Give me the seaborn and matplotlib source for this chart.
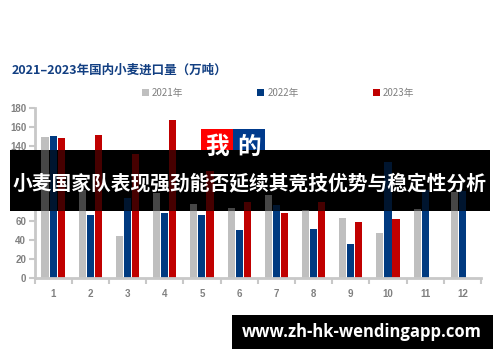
import matplotlib
matplotlib.use('Agg')
import matplotlib.pyplot as plt
import seaborn as sns
import pandas as pd
import numpy as np
from matplotlib.patches import Rectangle

# ---- data ----
months = ['1', '2', '3', '4', '5', '6', '7', '8', '9', '10', '11', '12']
years = ['2021年', '2022年', '2023年']
v2021 = [149, 93, 44, 90, 78, 74, 88, 72, 64, 48, 73, 91]
v2022 = [150, 67, 85, 69, 67, 51, 77, 52, 36, 123, 93, 92]
v2023 = [148, 151, 131, 167, 113, 80, 69, 81, 59, 63, 0, 0]
yticks = [0, 20, 40, 60, 80, 100, 120, 140, 160, 180]
title = '2021–2023年国内小麦进口量（万吨）'
banner = '小麦国家队表现强劲能否延续其竞技优势与稳定性分析'
url = 'www.zh-hk-wendingapp.com'
logo = ['我', '的']
colors = ['#bfbfbf', '#003a80', '#c00000']

df = pd.DataFrame({
    '月份': months * 3,
    '年份': [y for y in years for _ in months],
    '进口量': v2021 + v2022 + v2023,
})

sns.set_style('white')
plt.rcParams['font.family'] = ['Noto Sans CJK SC', 'DejaVu Sans']

W, H = 500, 362
fig = plt.figure(figsize=(W / 100, H / 100), dpi=100)


def fx(px):
    return px / W


def fy(py):
    return 1 - py / H


ax = fig.add_axes([fx(34.5), fy(278), fx(481) - fx(34.5), fy(108) - fy(278)])

sns.barplot(data=df, x='月份', y='进口量', hue='年份', palette=colors,
            width=0.65, gap=0.12, saturation=1, linewidth=0,
            ax=ax, zorder=2)

# banner (opaque black) with dim bars visible through it
banner_rect = Rectangle((fx(10), fy(211)), fx(490) - fx(10), fy(150) - fy(211),
                        transform=fig.transFigure, facecolor='black',
                        edgecolor='none', zorder=5, clip_on=False)

# logo boxes partially covered by banner
for i, (ch, c) in enumerate(zip(logo, ['#ff0000', '#003a8c'])):
    x0 = 201 + i * 32
    r = Rectangle((fx(x0), fy(165)), fx(32), fy(129) - fy(165),
                  transform=fig.transFigure, facecolor=c, edgecolor='none',
                  zorder=4, clip_on=False)
    ax.add_patch(r)
    fig.text(fx(x0 + 16), fy(147), ch, color='white', fontsize=17,
             fontweight='bold', ha='center', va='center', zorder=4)

ax.add_patch(banner_rect)
n = len(ax.patches)
sns.barplot(data=df, x='月份', y='进口量', hue='年份', palette=colors,
            width=0.65, gap=0.12, saturation=1, linewidth=0,
            ax=ax, zorder=6, alpha=0.37, legend=False)
for p in ax.patches[n:]:
    p.set_clip_path(banner_rect)

ax.set_xlim(-0.5, 11.5)
ax.set_ylim(0, 180)
ax.set_yticks(yticks)
ax.set_xlabel('')
ax.set_ylabel('')

for s in ['top', 'right']:
    ax.spines[s].set_visible(False)
for s in ['left', 'bottom']:
    ax.spines[s].set_color('#c8c8c8')
    ax.spines[s].set_linewidth(2)

ax.set_xticks(np.arange(-0.5, 12, 1), minor=True)
ax.tick_params(axis='y', left=True, length=4, width=1.5, color='#c8c8c8',
               labelcolor='#808080', labelsize=7, pad=2,
               labelfontfamily='Liberation Sans')
ax.tick_params(axis='x', which='major', bottom=True, length=0,
               labelcolor='#808080', labelsize=7, pad=8,
               labelfontfamily='Liberation Sans')
ax.tick_params(axis='x', which='minor', bottom=True, length=4, width=1.5,
               color='#c8c8c8')
for lbl in ax.get_xticklabels() + ax.get_yticklabels():
    lbl.set_fontweight('bold')

sns.move_legend(ax, 'center', bbox_to_anchor=(fx(278), fy(93)),
                bbox_transform=fig.transFigure, ncol=3, frameon=False,
                title=None, handlelength=0.75, handleheight=0.75,
                handletextpad=0.3, columnspacing=7.6, fontsize=7,
                labelcolor='#808080')

fig.text(fx(12), fy(70), title, color='#123f82', fontsize=9,
         fontweight='bold', ha='left', va='center')

fig.text(fx(250), fy(183), banner, color='white', fontsize=14.2,
         fontweight='bold', ha='center', va='center', zorder=7)

url_box = Rectangle((fx(232), fy(349)), fx(493) - fx(232), fy(315) - fy(349),
                    transform=fig.transFigure, facecolor='black',
                    edgecolor='none', zorder=8)
fig.add_artist(url_box)
fig.text(fx(362), fy(332), url, color='white', fontsize=12,
         fontweight='bold', family='Open Sans', ha='center', va='center',
         zorder=9)

fig.savefig('out.png', dpi=100)
